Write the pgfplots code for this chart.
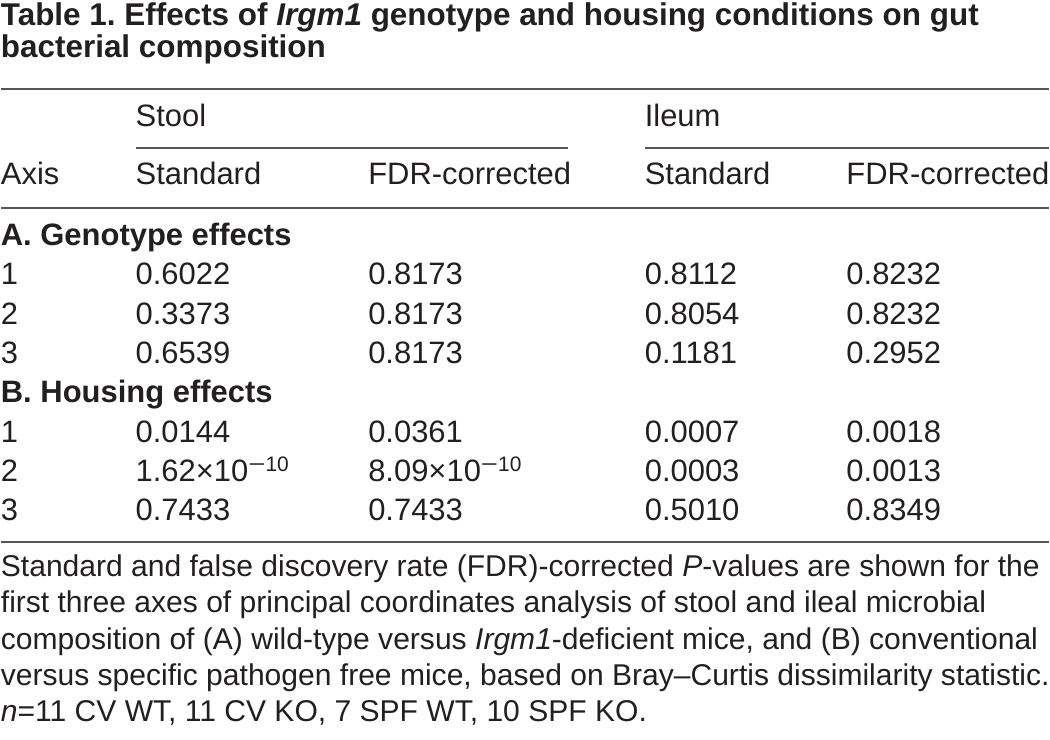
\documentclass[border=0pt]{standalone}
\usepackage{pgfplots}
\pgfplotsset{compat=1.18}
\usepackage{fontspec}
\setmainfont{Liberation Sans}
\definecolor{txt}{HTML}{231F20}
\definecolor{rule}{HTML}{555555}
\tikzset{t/.style={anchor=base west, inner sep=0pt, outer sep=0pt, text=txt, font=\fontsize{15.5}{18}\selectfont},
         tt/.style={anchor=base west, inner sep=0pt, outer sep=0pt, text=txt, font=\fontsize{15.75}{18}\selectfont\bfseries},
         captxt/.style={anchor=base west, inner sep=0pt, outer sep=0pt, text=txt, font=\fontsize{15.05}{18}\selectfont}}
\newcommand{\negexp}[1]{\raisebox{5pt}{\fontsize{10.5}{11}\selectfont\scalebox{1.4}[1]{−}#1}}
\frenchspacing
\begin{document}
\begin{tikzpicture}
\begin{axis}[
  width=525pt, height=370.5pt, scale only axis,
  xmin=0, xmax=1050, ymin=0, ymax=741, y dir=reverse,
  hide axis, clip=false
]
\path (axis cs:0,0) rectangle (axis cs:1050,741);
% title
\node[tt] at (axis cs:0,26) {Table 1. Effects of \textit{Irgm1} genotype and housing conditions on gut};
\node[tt] at (axis cs:0,58) {bacterial composition};
% rules
\draw[rule, line width=0.9pt] (axis cs:0,89) -- (axis cs:1050,89);
\draw[rule, line width=0.9pt] (axis cs:135,148) -- (axis cs:568,148);
\draw[rule, line width=0.9pt] (axis cs:645,148) -- (axis cs:1050,148);
\draw[rule, line width=0.9pt] (axis cs:0,208) -- (axis cs:1050,208);
\draw[rule, line width=0.9pt] (axis cs:0,543) -- (axis cs:1050,543);
% header
\node[t] at (axis cs:135,127) {Stool};
\node[t] at (axis cs:645,127) {Ileum};
\node[t] at (axis cs:0,185) {Axis};
\node[t] at (axis cs:135,185) {Standard};
\node[t] at (axis cs:368,185) {FDR-corrected};
\node[t] at (axis cs:645,185) {Standard};
\node[t] at (axis cs:847,185) {FDR-corrected};
% section A
\node[t] at (axis cs:0,246) {\bfseries A. Genotype effects};
\node[t] at (axis cs:0,285) {1};
\node[t] at (axis cs:135,285) {0.6022};
\node[t] at (axis cs:368,285) {0.8173};
\node[t] at (axis cs:645,285) {0.8112};
\node[t] at (axis cs:847,285) {0.8232};
\node[t] at (axis cs:0,325) {2};
\node[t] at (axis cs:135,325) {0.3373};
\node[t] at (axis cs:368,325) {0.8173};
\node[t] at (axis cs:645,325) {0.8054};
\node[t] at (axis cs:847,325) {0.8232};
\node[t] at (axis cs:0,364) {3};
\node[t] at (axis cs:135,364) {0.6539};
\node[t] at (axis cs:368,364) {0.8173};
\node[t] at (axis cs:645,364) {0.1181};
\node[t] at (axis cs:847,364) {0.2952};
% section B
\node[t] at (axis cs:0,403) {\bfseries B. Housing effects};
\node[t] at (axis cs:0,443) {1};
\node[t] at (axis cs:135,443) {0.0144};
\node[t] at (axis cs:368,443) {0.0361};
\node[t] at (axis cs:645,443) {0.0007};
\node[t] at (axis cs:847,443) {0.0018};
\node[t] at (axis cs:0,482) {2};
\node[t] at (axis cs:135,482) {1.62×10\negexp{10}};
\node[t] at (axis cs:368,482) {8.09×10\negexp{10}};
\node[t] at (axis cs:645,482) {0.0003};
\node[t] at (axis cs:847,482) {0.0013};
\node[t] at (axis cs:0,521) {3};
\node[t] at (axis cs:135,521) {0.7433};
\node[t] at (axis cs:368,521) {0.7433};
\node[t] at (axis cs:645,521) {0.5010};
\node[t] at (axis cs:847,521) {0.8349};
% caption
\node[captxt] at (axis cs:0,577) {Standard and false discovery rate (FDR)-corrected \textit{P}-values are shown for the};
\node[captxt] at (axis cs:0,614) {first three axes of principal coordinates analysis of stool and ileal microbial};
\node[captxt] at (axis cs:0,651) {composition of (A) wild-type versus \textit{Irgm1}-deficient mice, and (B) conventional};
\node[captxt] at (axis cs:0,687) {versus specific pathogen free mice, based on Bray–Curtis dissimilarity statistic.};
\node[captxt] at (axis cs:0,723) {\textit{n}=11 CV WT, 11 CV KO, 7 SPF WT, 10 SPF KO.};
\end{axis}
\end{tikzpicture}
\end{document}
